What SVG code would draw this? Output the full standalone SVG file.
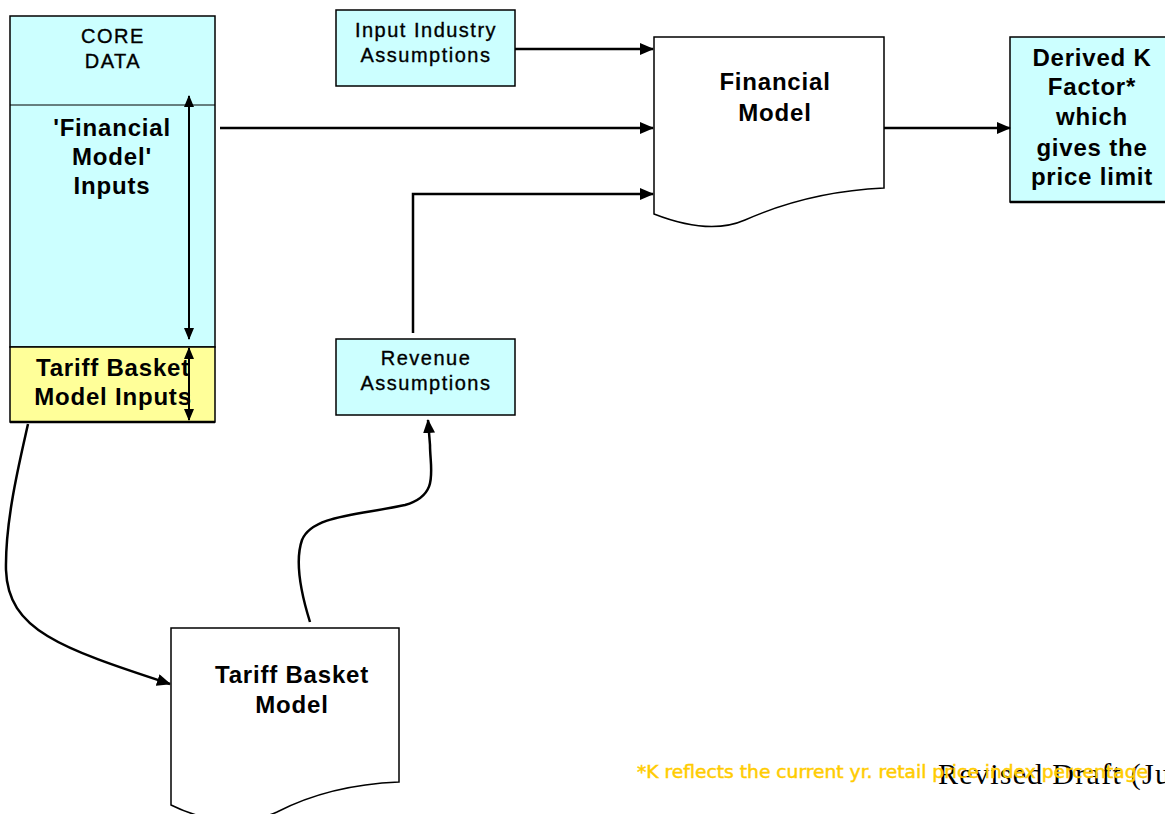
<svg xmlns="http://www.w3.org/2000/svg" width="1165" height="814" viewBox="0 0 1165 814">
  <defs>
    <marker id="head" viewBox="0 0 14 12" refX="13" refY="6" markerWidth="14" markerHeight="12" markerUnits="userSpaceOnUse" orient="auto-start-reverse">
      <path d="M0,0 L14,6 L0,12 Z" fill="#000"/>
    </marker>
    <marker id="headS" viewBox="0 0 12 10" refX="11" refY="5" markerWidth="12" markerHeight="11" markerUnits="userSpaceOnUse" orient="auto-start-reverse">
      <path d="M0,0 L12,5 L0,10 Z" fill="#000"/>
    </marker>
  </defs>
  <style>
    .box { fill: #ccffff; stroke: #000; stroke-width: 1.5; }
    .doc { fill: #fff; stroke: #000; stroke-width: 1.5; }
    .lbl { font-family: "Liberation Sans", Arial, sans-serif; font-size: 20px; letter-spacing: 1.5px; fill: #000; stroke: #000; stroke-width: 0.35px; text-anchor: middle; }
    .big { font-family: "Liberation Sans", Arial, sans-serif; font-size: 24px; letter-spacing: 0.8px; font-weight: bold; fill: #000; text-anchor: middle; }
    .conn { fill: none; stroke: #000; stroke-width: 2.5; marker-end: url(#head); }
    .dbl { fill: none; stroke: #000; stroke-width: 2; marker-start: url(#headS); marker-end: url(#headS); }
  </style>
  <rect width="1165" height="814" fill="#fff"/>

  <!-- Core data column -->
  <g id="core-data">
    <rect x="10" y="16" width="205" height="331" class="box"/>
    <line x1="10" y1="105" x2="215" y2="105" stroke="#000" stroke-width="1"/>
    <text class="lbl" x="113" y="43">CORE</text>
    <text class="lbl" x="113" y="68">DATA</text>
    <text class="big" x="112" y="136">'Financial</text>
    <text class="big" x="112" y="165">Model'</text>
    <text class="big" x="112" y="194">Inputs</text>
  </g>
  <g id="tariff-inputs">
    <rect x="10" y="347" width="205" height="75" fill="#ffff99" stroke="#000" stroke-width="1.5"/>
    <line x1="10" y1="422" x2="215" y2="422" stroke="#000" stroke-width="2.5"/>
    <text class="big" x="113" y="376">Tariff Basket</text>
    <text class="big" x="113" y="405">Model Inputs</text>
  </g>

  <g id="input-industry">
    <rect x="336" y="10" width="179" height="76" class="box"/>
    <text class="lbl" x="426" y="37">Input Industry</text>
    <text class="lbl" x="426" y="62">Assumptions</text>
  </g>

  <g id="financial-model">
    <path class="doc" d="M654,37 L884,37 L884,188 C840,190 790,200 745,220 C720,231 690,228 654,214 Z"/>
    <text class="big" x="775" y="90">Financial</text>
    <text class="big" x="775" y="121">Model</text>
  </g>

  <g id="derived-k">
    <rect x="1010" y="37" width="160" height="165" class="box"/>
    <line x1="1010" y1="202" x2="1170" y2="202" stroke="#000" stroke-width="2.5"/>
    <text class="big" x="1092" y="66">Derived K</text>
    <text class="big" x="1092" y="95">Factor*</text>
    <text class="big" x="1092" y="125">which</text>
    <text class="big" x="1092" y="156">gives the</text>
    <text class="big" x="1092" y="185">price limit</text>
  </g>

  <g id="revenue">
    <rect x="336" y="339" width="179" height="76" class="box"/>
    <text class="lbl" x="426" y="365">Revenue</text>
    <text class="lbl" x="426" y="390">Assumptions</text>
  </g>

  <g id="tariff-model">
    <path class="doc" d="M171,628 L399,628 L399,782 C350,784 310,795 277,812 C245,826 205,822 171,805 Z"/>
    <text class="big" x="292" y="683">Tariff Basket</text>
    <text class="big" x="292" y="713">Model</text>
  </g>

  <!-- Connectors -->
  <g id="connectors">
    <line class="dbl" x1="189" y1="96" x2="189" y2="339"/>
    <line class="dbl" x1="189" y1="348" x2="189" y2="420"/>
    <line class="conn" x1="515" y1="49" x2="653" y2="49"/>
    <line class="conn" x1="220" y1="128" x2="653" y2="128"/>
    <polyline class="conn" points="413,333 413,194 653,194"/>
    <line class="conn" x1="884" y1="128" x2="1010" y2="128"/>
    <path class="conn" d="M28,424 C20,460 5,520 6,570 C8,630 60,648 170,684"/>
    <path class="conn" d="M310,622 C300,590 295,560 302,540 C312,515 360,515 405,505 C440,495 430,470 430,445 L428,420"/>
  </g>

  <!-- Footer notes -->
  <g id="footer">
    <text x="938" y="784" font-family="'Liberation Serif', 'Times New Roman', serif" font-size="30" fill="#000" textLength="232" lengthAdjust="spacing">Revised Draft (Ju</text>
    <text x="637" y="778" font-family="'DejaVu Sans', Tahoma, sans-serif" font-size="18" fill="#ffcc00" stroke="#ffcc00" stroke-width="0.5" textLength="511" lengthAdjust="spacingAndGlyphs">*K reflects the current yr. retail price index percentage</text>
  </g>
</svg>
